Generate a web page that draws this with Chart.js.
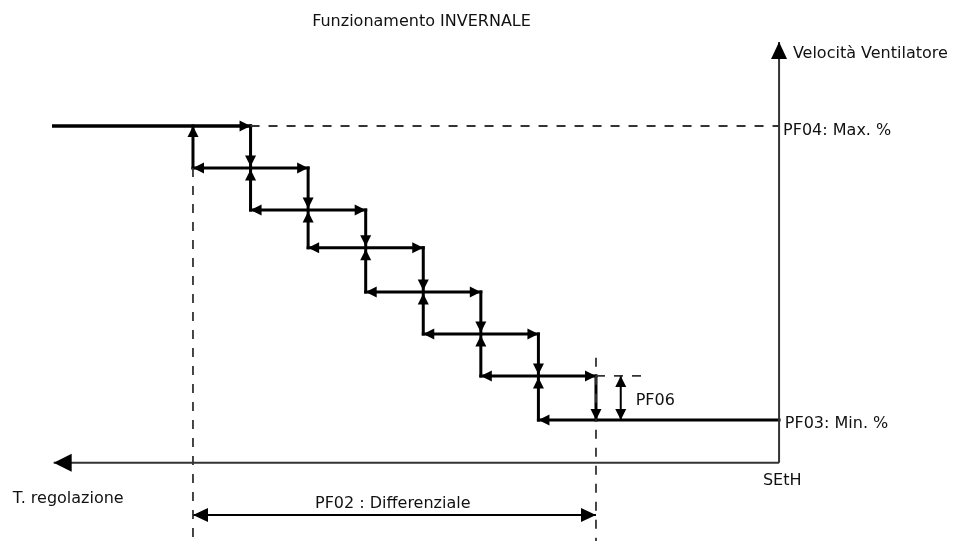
<!DOCTYPE html>
<html lang="it">
<head>
  <meta charset="UTF-8">
  <title>Funzionamento INVERNALE</title>
  <script src="https://cdn.jsdelivr.net/npm/chart.js"></script>
  <style>
    html, body { margin: 0; padding: 0; background: #fff; }
    #grafico { display: block; }
  </style>
</head>
<body>
  <canvas id="grafico" width="955" height="541"></canvas>

  <script>
    // Gradini della regolazione: posizione sull'asse temperatura (0 = fine differenziale)
    var colonne = [7, 6, 5, 4, 3, 2, 1, 0];
    // Livelli di velocita' (7 = PF04 max, 0 = PF03 min)
    var livelli = [7, 6, 5, 4.1, 3.05, 2.05, 1.05, 0];

    var assePosX = -3.18;   // SEtH
    var assePosY = -1.02;
    var asseInizio = 9.42;  // punta freccia "T. regolazione"
    var asseCima = 9.0;     // punta freccia "Velocita'"
    var pf02Y = -2.26;
    var pf06X = -0.43;
    var pf06Fine = -0.80;
    var tratteggioC7 = 1.48;

    var xMin = -6.236, xMax = 10.352;
    var yMin = -2.881, yMax = 10.0;

    var testi = ['Funzionamento INVERNALE', 'Velocità Ventilatore', 'PF04: Max. %',
                 'PF03: Min. %', 'SEtH', 'T. regolazione', 'PF02 : Differenziale', 'PF06'];

    var etichette = [
      { t: testi[0], x: 4.93, y: 9.37, align: 'left' },
      { t: testi[1], x: -3.42, y: 8.62, align: 'left' },
      { t: testi[2], x: -3.25, y: 6.79, align: 'left' },
      { t: testi[3], x: -3.28, y: -0.19, align: 'left' },
      { t: testi[4], x: -2.90, y: -1.55, align: 'left' },
      { t: testi[5], x: 10.13, y: -1.98, align: 'left' },
      { t: testi[6], x: 3.53, y: -2.10, align: 'center' },
      { t: testi[7], x: -0.69, y: 0.36, align: 'left' }
    ];

    var datasets = [];
    var frecce = [];

    function linea(p1, p2, stile) {
      datasets.push(Object.assign({
        data: [p1, p2],
        showLine: true,
        pointRadius: 0,
        borderColor: '#000',
        borderWidth: 3,
        borderCapStyle: 'square',
        fill: false
      }, stile || {}));
    }

    var tratto = { borderColor: '#333', borderWidth: 1.8, borderDash: [9, 9], borderCapStyle: 'butt' };
    var sottile = { borderColor: '#333', borderWidth: 2, borderCapStyle: 'butt' };

    // tratteggi di riferimento
    linea({ x: colonne[1], y: livelli[0] }, { x: assePosX, y: livelli[0] }, tratto);
    linea({ x: colonne[0], y: livelli[1] }, { x: colonne[0], y: yMin }, tratto);
    linea({ x: colonne[7], y: tratteggioC7 }, { x: colonne[7], y: yMin }, tratto);
    linea({ x: colonne[7], y: livelli[6] }, { x: pf06Fine, y: livelli[6] }, tratto);

    // assi
    linea({ x: asseInizio, y: assePosY }, { x: assePosX, y: assePosY }, sottile);
    linea({ x: assePosX, y: assePosY }, { x: assePosX, y: asseCima }, sottile);
    frecce.push({ x: asseInizio, y: assePosY, dir: 'left', len: 18, half: 9 });
    frecce.push({ x: assePosX, y: asseCima, dir: 'up', len: 17, half: 8 });

    // gradini orizzontali
    linea({ x: asseInizio, y: livelli[0] }, { x: colonne[1], y: livelli[0] }, { borderWidth: 3.3 });
    frecce.push({ x: colonne[1], y: livelli[0], dir: 'right' });
    for (var k = 1; k <= 6; k++) {
      linea({ x: colonne[k - 1], y: livelli[k] }, { x: colonne[k + 1], y: livelli[k] });
      frecce.push({ x: colonne[k - 1], y: livelli[k], dir: 'left' });
      frecce.push({ x: colonne[k + 1], y: livelli[k], dir: 'right' });
    }
    linea({ x: colonne[6], y: livelli[7] }, { x: assePosX, y: livelli[7] });
    frecce.push({ x: colonne[6], y: livelli[7], dir: 'left' });

    // gradini verticali
    linea({ x: colonne[0], y: livelli[1] }, { x: colonne[0], y: livelli[0] });
    frecce.push({ x: colonne[0], y: livelli[0], dir: 'up' });
    for (var j = 1; j <= 6; j++) {
      linea({ x: colonne[j], y: livelli[j - 1] }, { x: colonne[j], y: livelli[j + 1] });
      frecce.push({ x: colonne[j], y: livelli[j], dir: 'down', off: -1.5 });
      frecce.push({ x: colonne[j], y: livelli[j], dir: 'up', off: 1.5 });
    }
    linea({ x: colonne[7], y: livelli[6] }, { x: colonne[7], y: livelli[7] });
    frecce.push({ x: colonne[7], y: livelli[7], dir: 'down' });

    // PF06 (isteresi) e PF02 (differenziale)
    linea({ x: pf06X, y: livelli[7] }, { x: pf06X, y: livelli[6] }, { borderWidth: 2, borderCapStyle: 'butt' });
    frecce.push({ x: pf06X, y: livelli[6], dir: 'up', len: 11, half: 5.5 });
    frecce.push({ x: pf06X, y: livelli[7], dir: 'down', len: 11, half: 5.5 });
    linea({ x: colonne[0], y: pf02Y }, { x: colonne[7], y: pf02Y }, { borderWidth: 2, borderCapStyle: 'butt' });
    frecce.push({ x: colonne[0], y: pf02Y, dir: 'left', len: 15, half: 7 });
    frecce.push({ x: colonne[7], y: pf02Y, dir: 'right', len: 15, half: 7 });

    var versi = { up: [0, -1], down: [0, 1], left: [-1, 0], right: [1, 0] };

    var pluginDisegno = {
      id: 'frecceTesti',
      afterDatasetsDraw: function(chart) {
        var ctx = chart.ctx;
        var sx = chart.scales.x, sy = chart.scales.y;
        ctx.save();
        ctx.fillStyle = '#000';
        frecce.forEach(function(f) {
          var d = versi[f.dir];
          var len = f.len || 11, half = f.half || 5.5;
          var px = sx.getPixelForValue(f.x);
          var py = sy.getPixelForValue(f.y) + (f.off || 0);
          var bx = px - d[0] * len, by = py - d[1] * len;
          var nx = -d[1], ny = d[0];
          ctx.beginPath();
          ctx.moveTo(px, py);
          ctx.lineTo(bx + nx * half, by + ny * half);
          ctx.lineTo(bx - nx * half, by - ny * half);
          ctx.closePath();
          ctx.fill();
        });
        ctx.fillStyle = '#111';
        ctx.font = '16px "DejaVu Sans", Verdana, sans-serif';
        ctx.textBaseline = 'alphabetic';
        etichette.forEach(function(e) {
          ctx.textAlign = e.align;
          ctx.fillText(e.t, sx.getPixelForValue(e.x), sy.getPixelForValue(e.y));
        });
        ctx.restore();
      }
    };

    new Chart(document.getElementById('grafico'), {
      type: 'scatter',
      data: { datasets: datasets },
      options: {
        responsive: false,
        animation: false,
        devicePixelRatio: 1,
        layout: { padding: 0 },
        plugins: { legend: { display: false }, tooltip: { enabled: false } },
        scales: {
          x: { type: 'linear', reverse: true, min: xMin, max: xMax, display: false },
          y: { type: 'linear', min: yMin, max: yMax, display: false }
        }
      },
      plugins: [pluginDisegno]
    });
  </script>
</body>
</html>
